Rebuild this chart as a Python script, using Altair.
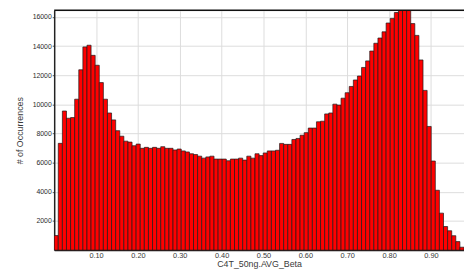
import altair as alt
import pandas as pd

# Histogram of C4T_50ng.AVG_Beta: 100 equal bins
x_min = 0.0
x_max = 0.979
n_bins = 100
counts = [1000, 7330, 9550, 9055, 9100, 10360, 12380, 13950, 14065, 13370,
          12690, 11500, 10360, 9415, 8940, 8200, 7820, 7480, 7415, 7165,
          7280, 6990, 7055, 6990, 7055, 6990, 7100, 6990, 6990, 6875,
          6940, 6810, 6740, 6615, 6560, 6450, 6315, 6400, 6450, 6250,
          6250, 6250, 6135, 6250, 6250, 6315, 6180, 6450, 6315, 6615,
          6490, 6670, 6810, 6810, 6855, 7325, 7260, 7260, 7595, 7665,
          7885, 8065, 8380, 8380, 8810, 8850, 9350, 9415, 10020, 9955,
          10430, 10805, 11235, 11680, 11950, 12540, 12990, 13665, 14200, 14560,
          14985, 15590, 15905, 16310, 16445, 16535, 16445, 15550, 14740, 13055,
          10965, 8490, 6115, 4110, 2540, 1620, 1330, 990, 585, 200]
x_ticks = [0.1, 0.2, 0.3, 0.4, 0.5, 0.6, 0.7, 0.8, 0.9]
y_ticks = [2000, 4000, 6000, 8000, 10000, 12000, 14000, 16000]
x_title = "C4T_50ng.AVG_Beta"
y_title = "# of Occurrences"

bw = (x_max - x_min) / n_bins
df = pd.DataFrame({
    "start": [x_min + i * bw for i in range(n_bins)],
    "end": [x_min + (i + 1) * bw for i in range(n_bins)],
    "count": counts,
    "base": [0] * n_bins,
})

W, H = 417, 244

bars = alt.Chart(df).mark_bar(
    color="#ff0000", stroke="#1a1a1a", strokeWidth=0.7, clip=True
).encode(
    x=alt.X("start:Q",
            scale=alt.Scale(domain=[x_min, x_max], nice=False, zero=False),
            axis=alt.Axis(values=x_ticks, format=".2f", title=x_title,
                          ticks=False, labelPadding=2, labelFontSize=7.5,
                          labelColor="#3a3a3a", titleFontSize=9,
                          titleFontWeight="normal", titleColor="#3a3a3a",
                          titleY=10, titleBaseline="top",
                          domainColor="#222", domainWidth=1.5,
                          grid=True, gridColor="#dcdcdc", gridWidth=1)),
    x2="end:Q",
    y=alt.Y("count:Q",
            scale=alt.Scale(domain=[0, 16460], nice=False),
            axis=alt.Axis(values=y_ticks, format="d", title=y_title,
                          tickSize=2, tickColor="#555", labelPadding=1,
                          labelFontSize=7, labelColor="#2a2a2a",
                          titleFontSize=9, titleFontWeight="normal",
                          titleColor="#3a3a3a", titleX=-30,
                          domainColor="#222", domainWidth=1.5,
                          grid=True, gridColor="#dcdcdc", gridWidth=1)),
    y2="base:Q",
)

top_line = alt.Chart(pd.DataFrame({"v": [0]})).mark_rule(
    color="#111", strokeWidth=1.5
).encode(x=alt.value(0), x2=alt.value(W), y=alt.value(0))

chart = alt.layer(bars, top_line).properties(
    width=W, height=H,
    autosize=alt.AutoSizeParams(type="none"),
    padding={"left": 47, "top": 0, "right": 0, "bottom": 27},
).configure_view(stroke=None).configure(font="Liberation Sans")

chart.save("out.html", embed_options={"renderer": "svg", "actions": False})
